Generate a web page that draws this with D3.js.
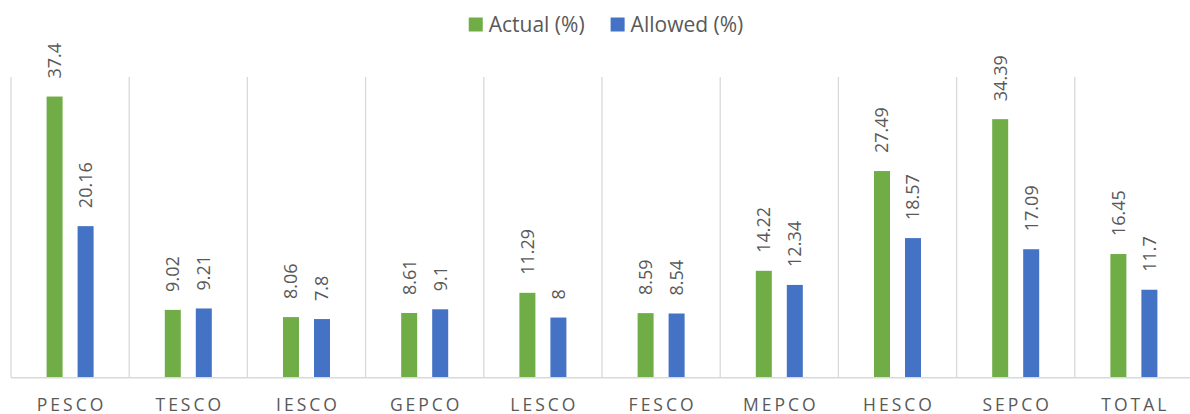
<!DOCTYPE html>
<html>
<head>
<meta charset="utf-8">
<script src="https://cdn.jsdelivr.net/npm/d3@7"></script>
<style>
  html, body { margin: 0; padding: 0; background: #fff; }
  svg { display: block; font-family: "Open Sans", sans-serif; }
</style>
</head>
<body>
<svg id="chart"></svg>
<script>
const categories = ['PESCO', 'TESCO', 'IESCO', 'GEPCO', 'LESCO', 'FESCO', 'MEPCO', 'HESCO', 'SEPCO', 'TOTAL'];
const seriesNames = ['Actual (%)', 'Allowed (%)'];
const actualValues = [37.4, 9.02, 8.06, 8.61, 11.29, 8.59, 14.22, 27.49, 34.39, 16.45];
const allowedValues = [20.16, 9.21, 7.8, 9.1, 8, 8.54, 12.34, 18.57, 17.09, 11.7];

const width = 1190;
const height = 414;
const colors = ['#70ad47', '#4472c4'];
const textColor = '#595959';

const svg = d3.select('#chart')
  .attr('width', width)
  .attr('height', height);

const x = d3.scaleBand()
  .domain(categories)
  .range([11, 1193]);

const xSub = d3.scaleBand()
  .domain(seriesNames)
  .range([35.6, 82.6])
  .paddingInner(0.4839);

const y = d3.scaleLinear()
  .domain([0, 40])
  .range([377.7, 77]);

// vertical separators between categories
svg.append('g')
  .selectAll('line')
  .data(categories)
  .enter()
  .append('line')
  .attr('x1', d => x(d))
  .attr('x2', d => x(d))
  .attr('y1', y(40))
  .attr('y2', y(0))
  .attr('stroke', '#d9d9d9')
  .attr('stroke-width', 1.3);

const rows = categories.map((c, i) => ({
  cat: c,
  vals: [
    { name: seriesNames[0], value: actualValues[i], idx: 0 },
    { name: seriesNames[1], value: allowedValues[i], idx: 1 }
  ]
}));

const groups = svg.selectAll('.grp')
  .data(rows)
  .enter()
  .append('g')
  .attr('class', 'grp')
  .attr('transform', d => `translate(${x(d.cat)},0)`);

groups.selectAll('rect')
  .data(d => d.vals)
  .enter()
  .append('rect')
  .attr('x', d => xSub(d.name))
  .attr('width', xSub.bandwidth())
  .attr('y', d => y(d.value))
  .attr('height', d => y(0) - y(d.value))
  .attr('fill', d => colors[d.idx]);

groups.selectAll('text')
  .data(d => d.vals)
  .enter()
  .append('text')
  .attr('transform', d => `translate(${xSub(d.name) + xSub.bandwidth() / 2},${y(d.value) - 18}) rotate(-90)`)
  .attr('dy', '0.36em')
  .style('font-size', '18px')
  .attr('fill', textColor)
  .text(d => d.value);

// baseline
svg.append('line')
  .attr('x1', 11)
  .attr('x2', 1193)
  .attr('y1', y(0))
  .attr('y2', y(0))
  .attr('stroke', '#d9d9d9')
  .attr('stroke-width', 1.6);

// category labels
svg.append('g')
  .selectAll('text')
  .data(categories)
  .enter()
  .append('text')
  .attr('x', d => x(d) + x.bandwidth() / 2 + 1.5)
  .attr('y', 410.5)
  .attr('text-anchor', 'middle')
  .style('font-size', '17.5px')
  .style('letter-spacing', '3px')
  .attr('fill', textColor)
  .text(d => d);

// legend
const legend = svg.append('g');
const items = legend.selectAll('g')
  .data(seriesNames)
  .enter()
  .append('g');
items.append('rect')
  .attr('width', 14)
  .attr('height', 14)
  .attr('y', 17.5)
  .attr('fill', (d, i) => colors[i]);
items.append('text')
  .attr('x', 20)
  .attr('y', 32)
  .style('font-size', '21px')
  .attr('fill', textColor)
  .text(d => d);

let offset = 0;
const starts = [];
items.each(function () {
  starts.push(offset);
  offset += 20 + d3.select(this).select('text').node().getComputedTextLength() + 26;
});
const total = offset - 26;
const left = 606 - total / 2;
items.attr('transform', (d, i) => `translate(${left + starts[i]},0)`);
</script>
</body>
</html>
